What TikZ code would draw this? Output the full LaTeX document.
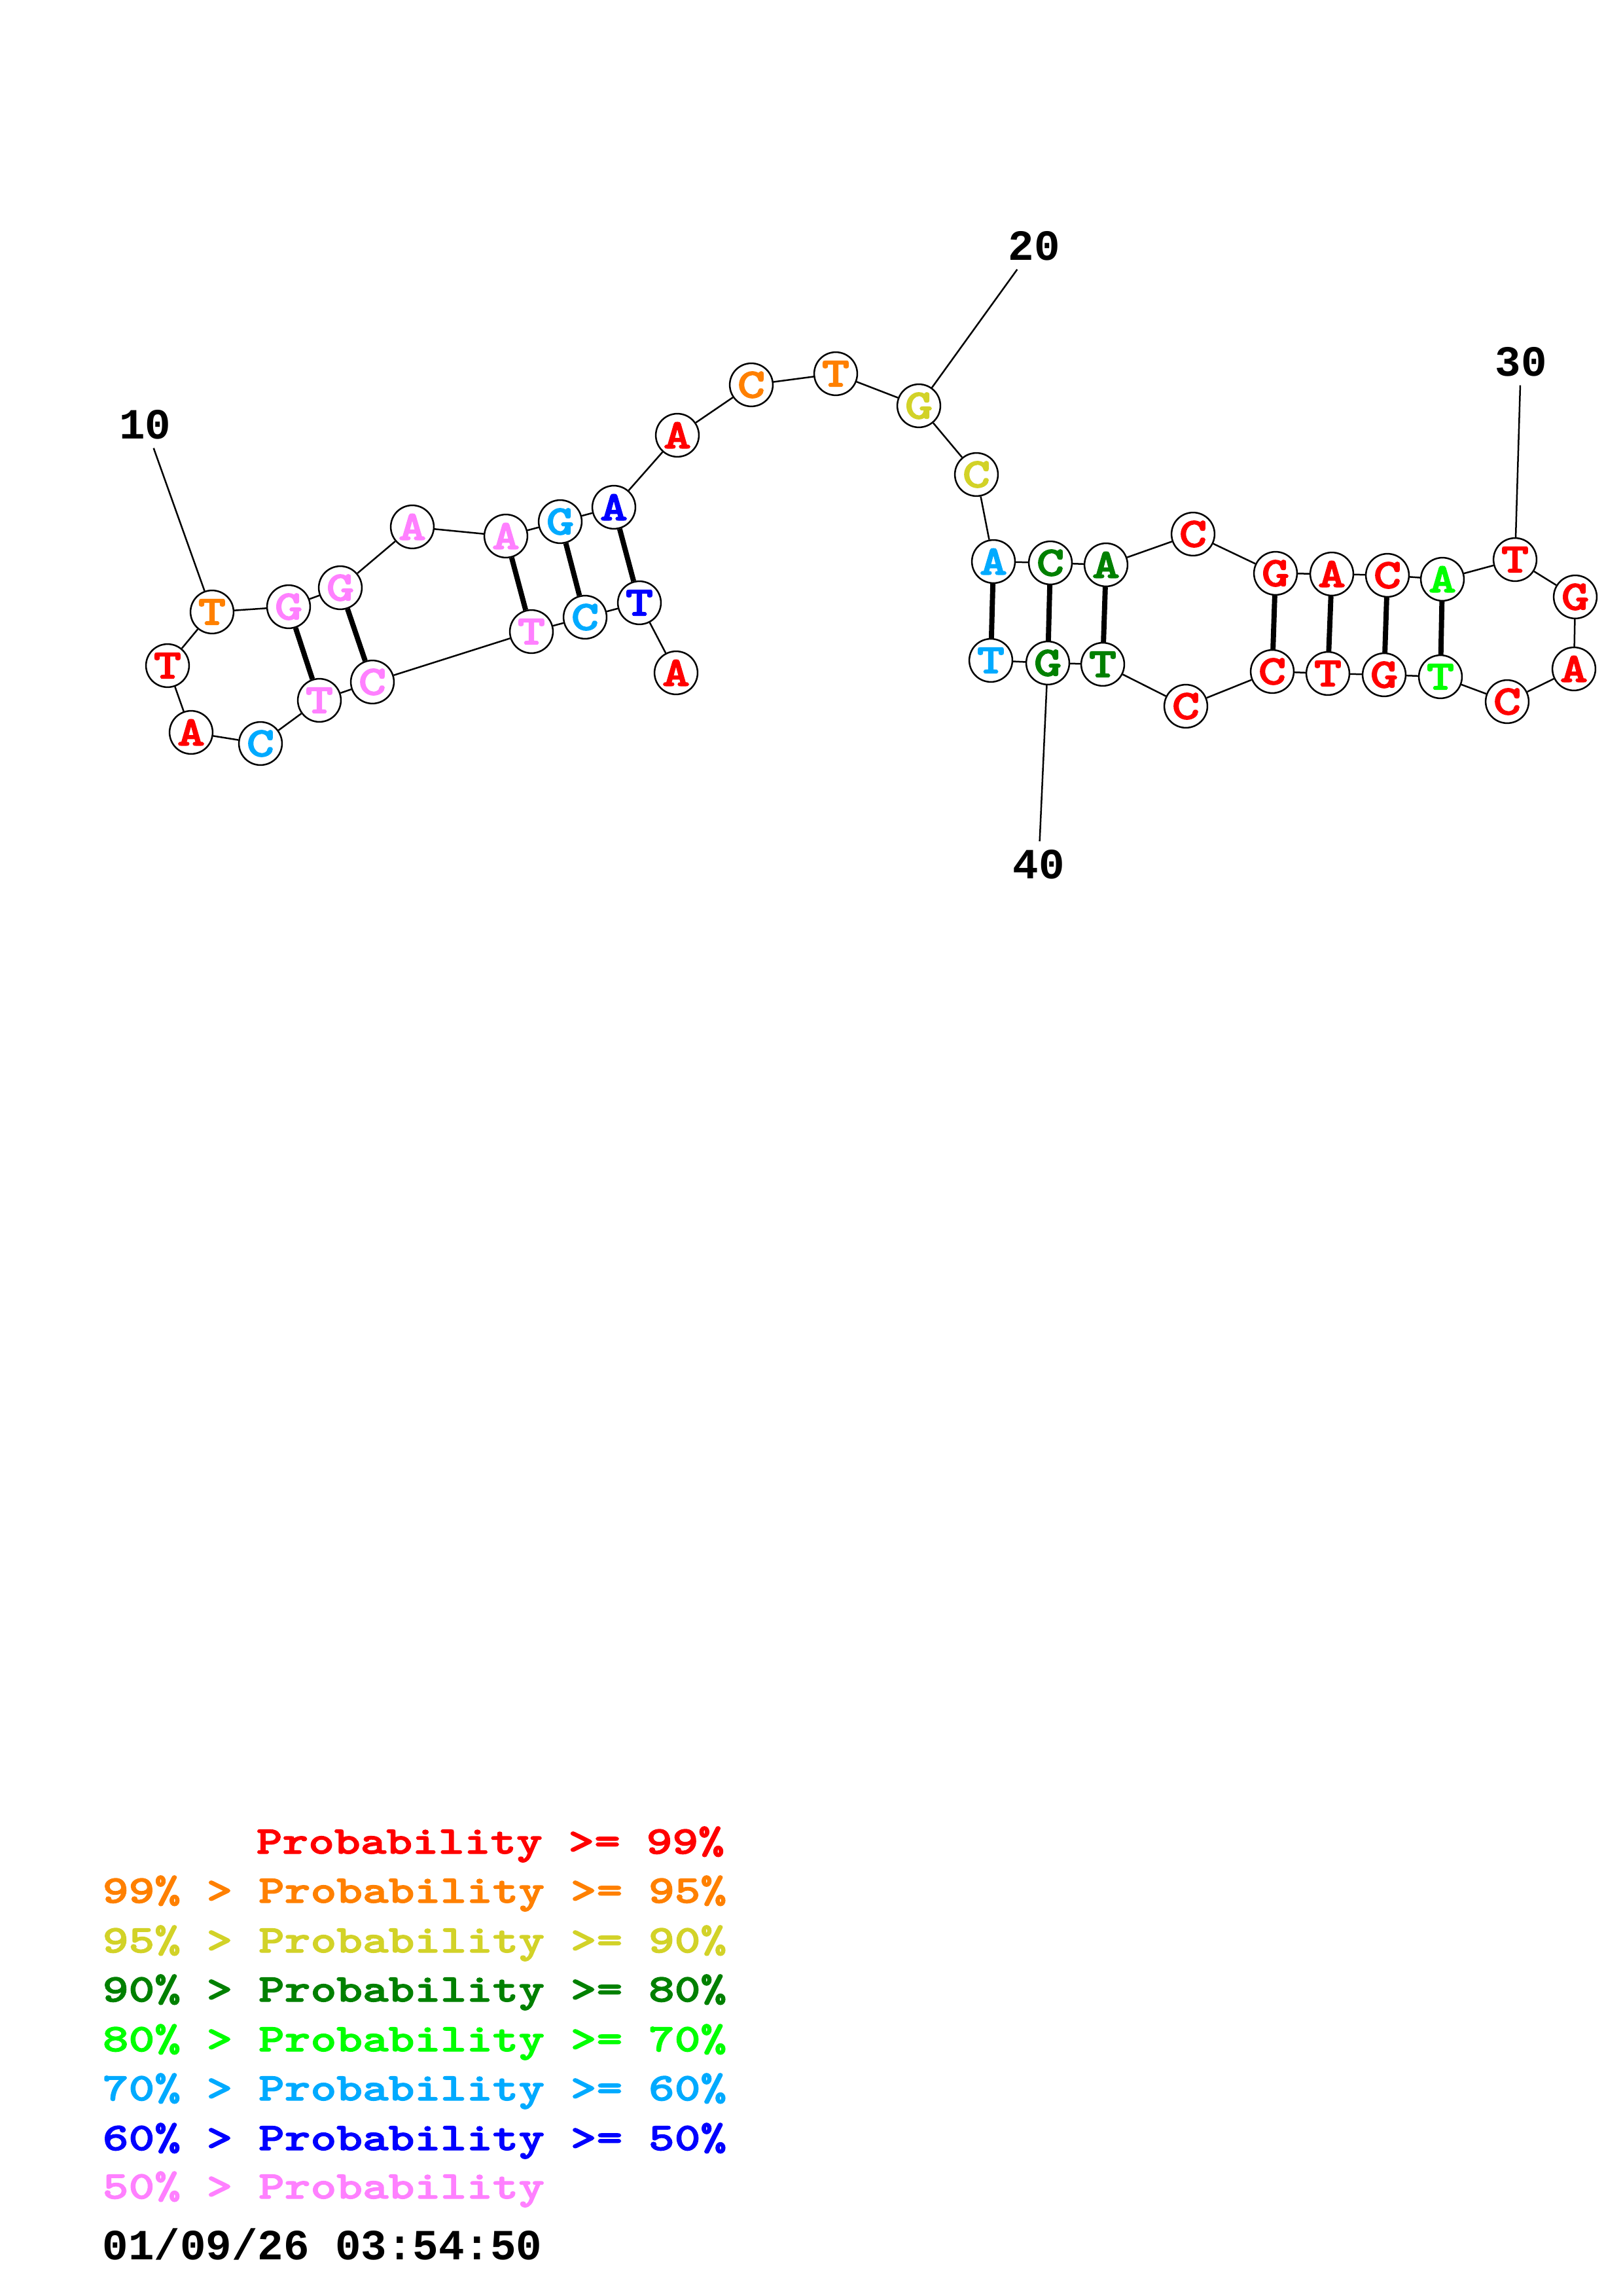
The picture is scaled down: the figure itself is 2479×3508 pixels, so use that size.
\documentclass[tikz,border=0pt]{standalone}
\usepackage{fontspec}
\usepackage{tikz}
\newfontfamily\seqfont{Liberation Mono}
\newfontfamily\slabfont{lmmonolt10-bold.otf}[FakeStretch=1.27,FakeBold=2.2]
\definecolor{pred}{RGB}{255,0,0}
\definecolor{porange}{RGB}{255,128,0}
\definecolor{pyellow}{RGB}{210,210,40}
\definecolor{pdkgreen}{RGB}{0,128,0}
\definecolor{pgreen}{RGB}{0,255,0}
\definecolor{pltblue}{RGB}{0,170,255}
\definecolor{pblue}{RGB}{0,0,255}
\definecolor{ppink}{RGB}{255,128,255}

\begin{document}
\begin{tikzpicture}[x=0.24pt,y=-0.24pt,
    nt/.style={draw,circle,line width=0.6pt,minimum size=15.8pt,inner sep=0pt,font=\slabfont\fontsize{15.3}{15.3}\selectfont},
    num/.style={inner sep=3pt,font=\seqfont\bfseries\fontsize{15.8}{18}\selectfont},
    key/.style={anchor=base west,inner sep=0pt,font=\slabfont\fontsize{14.3}{18}\selectfont},
    bb/.style={line width=0.6pt},
    pair/.style={line width=1.9pt}]
    \useasboundingbox (0,0) rectangle (2479,3508);

    \node[nt,text=pred] (1) at (1033,1028) {A};
    \node[nt,text=pblue] (2) at (977,921) {T};
    \node[nt,text=pltblue] (3) at (894,943) {C};
    \node[nt,text=ppink] (4) at (812,965) {T};
    \node[nt,text=ppink] (5) at (569,1042) {C};
    \node[nt,text=ppink] (6) at (488,1070) {T};
    \node[nt,text=pltblue] (7) at (398,1136) {C};
    \node[nt,text=pred] (8) at (292,1119) {A};
    \node[nt,text=pred] (9) at (256,1017) {T};
    \node[nt,text=porange] (10) at (324,935) {T};
    \node[nt,text=ppink] (11) at (441,927) {G};
    \node[nt,text=ppink] (12) at (520,898) {G};
    \node[nt,text=ppink] (13) at (630,805) {A};
    \node[nt,text=ppink] (14) at (773,819) {A};
    \node[nt,text=pltblue] (15) at (856,797) {G};
    \node[nt,text=pblue] (16) at (938,775) {A};
    \node[nt,text=pred] (17) at (1035,665) {A};
    \node[nt,text=porange] (18) at (1148,588) {C};
    \node[nt,text=porange] (19) at (1277,571) {T};
    \node[nt,text=pyellow] (20) at (1404,620) {G};
    \node[nt,text=pyellow] (21) at (1492,725) {C};
    \node[nt,text=pltblue] (22) at (1518,858) {A};
    \node[nt,text=pdkgreen] (23) at (1605,860) {C};
    \node[nt,text=pdkgreen] (24) at (1690,863) {A};
    \node[nt,text=pred] (25) at (1823,816) {C};
    \node[nt,text=pred] (26) at (1949,876) {G};
    \node[nt,text=pred] (27) at (2035,877) {A};
    \node[nt,text=pred] (28) at (2120,879) {C};
    \node[nt,text=pgreen] (29) at (2204,885) {A};
    \node[nt,text=pred] (30) at (2315,855) {T};
    \node[nt,text=pred] (31) at (2407,912) {G};
    \node[nt,text=pred] (32) at (2405,1022) {A};
    \node[nt,text=pred] (33) at (2303,1072) {C};
    \node[nt,text=pgreen] (34) at (2201,1034) {T};
    \node[nt,text=pred] (35) at (2115,1031) {G};
    \node[nt,text=pred] (36) at (2029,1029) {T};
    \node[nt,text=pred] (37) at (1944,1026) {C};
    \node[nt,text=pred] (38) at (1812,1079) {C};
    \node[nt,text=pdkgreen] (39) at (1685,1015) {T};
    \node[nt,text=pdkgreen] (40) at (1601,1013) {G};
    \node[nt,text=pltblue] (41) at (1514,1009) {T};

    \node[num] (l10) at (222,649) {10};
    \node[num] (l20) at (1580,376) {20};
    \node[num] (l30) at (2324,553) {30};
    \node[num] (l40) at (1587,1321) {40};

    \draw[bb] (1) -- (2) -- (3) -- (4) -- (5) -- (6) -- (7) -- (8) -- (9) -- (10)
        -- (11) -- (12) -- (13) -- (14) -- (15) -- (16) -- (17) -- (18) -- (19) -- (20)
        -- (21) -- (22) -- (23) -- (24) -- (25) -- (26) -- (27) -- (28) -- (29) -- (30)
        -- (31) -- (32) -- (33) -- (34) -- (35) -- (36) -- (37) -- (38) -- (39) -- (40)
        -- (41);

    \draw[bb] (l10) -- (10);
    \draw[bb] (l20) -- (20);
    \draw[bb] (l30) -- (30);
    \draw[bb] (l40) -- (40);

    \draw[pair] (2) -- (16);
    \draw[pair] (3) -- (15);
    \draw[pair] (4) -- (14);
    \draw[pair] (5) -- (12);
    \draw[pair] (6) -- (11);
    \draw[pair] (22) -- (41);
    \draw[pair] (23) -- (40);
    \draw[pair] (24) -- (39);
    \draw[pair] (26) -- (37);
    \draw[pair] (27) -- (36);
    \draw[pair] (28) -- (35);
    \draw[pair] (29) -- (34);

    % legend
    \node[key,text=pred] (k1) at (391,2832) {Probability >= 99\%};
    \node[key,text=porange] (k2) at (156,2907) {99\% > Probability >= 95\%};
    \node[key,text=pyellow] (k3) at (156,2983) {95\% > Probability >= 90\%};
    \node[key,text=pdkgreen] (k4) at (156,3058) {90\% > Probability >= 80\%};
    \node[key,text=pgreen] (k5) at (156,3134) {80\% > Probability >= 70\%};
    \node[key,text=pltblue] (k6) at (156,3209) {70\% > Probability >= 60\%};
    \node[key,text=pblue] (k7) at (156,3285) {60\% > Probability >= 50\%};
    \node[key,text=ppink] (k8) at (156,3359) {50\% > Probability};
    \node[key,font=\seqfont\bfseries\fontsize{15.8}{18}\selectfont] (date) at (156,3452) {01/09/26 03:54:50};
\end{tikzpicture}
\end{document}
